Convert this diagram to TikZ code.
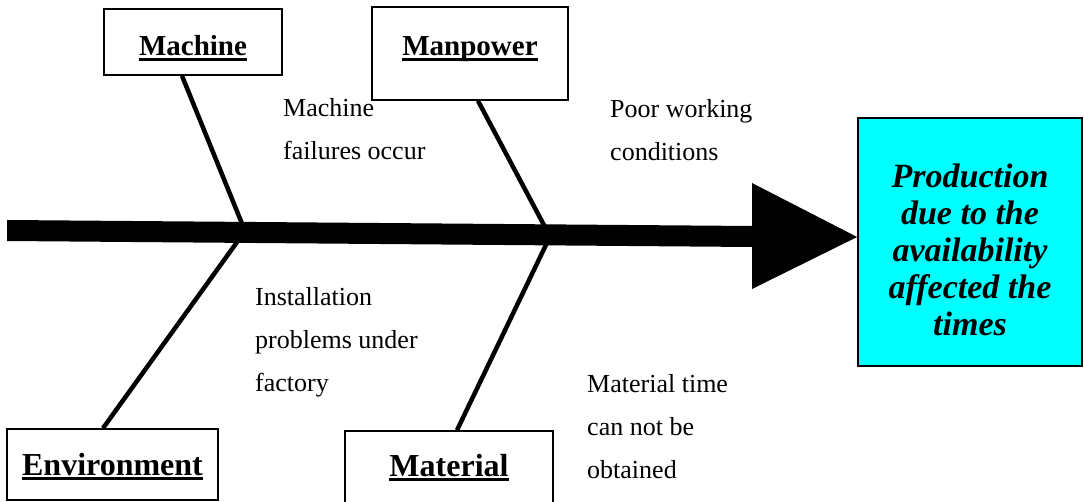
\documentclass[tikz,border=0pt]{standalone}
\usepackage{fontspec}
\setmainfont{Liberation Serif}
\usetikzlibrary{calc}
\definecolor{effectcyan}{RGB}{0,255,255}
% thick underline placed just below the baseline
\newcommand{\ulbox}[1]{\setbox0\hbox{#1}\rlap{\rule[-5pt]{\wd0}{3pt}}\box0}
\begin{document}
\begin{tikzpicture}[x=1pt,y=-1pt,
  catbox/.style={draw, line width=1.6pt, rectangle, inner sep=0pt, fill=white},
  topfont/.style={font=\fontsize{29}{34}\selectfont\bfseries},
  botfont/.style={font=\fontsize{32}{38}\selectfont\bfseries},
  note/.style={anchor=north west, align=left, inner sep=0pt, font=\fontsize{26}{43}\selectfont},
  bone/.style={line width=4.5pt},
  effectbox/.style={draw, line width=1.8pt, fill=effectcyan, rectangle, inner sep=0pt,
    minimum width=224pt, minimum height=248pt}]
\fill[white] (0,0) rectangle (1084,502);
\useasboundingbox (0,0) rectangle (1084,502);

% cause categories
\node[catbox, topfont, minimum width=178pt, minimum height=66pt, text height=32pt, text depth=4pt]
  (machine) at (193,42) {\ulbox{Machine}};
\node[catbox, topfont, minimum width=196pt, minimum height=93pt, text height=22pt, text depth=17pt]
  (manpower) at (470,53.5) {\ulbox{Manpower}};
\node[catbox, botfont, minimum width=211pt, minimum height=71pt, text height=26pt, text depth=5pt]
  (environment) at (112.5,464.5) {\ulbox{Environment}};
\node[catbox, botfont, minimum width=208pt, minimum height=89pt, text height=22pt, text depth=21pt]
  (material) at (449,475.5) {\ulbox{Material}};

% effect
\node[effectbox] (effect) at (970,242) {};
\node[align=center, inner sep=0pt, font=\fontsize{34}{37}\selectfont\bfseries\itshape]
  (effecttext) at ([yshift=-8pt]effect.center)
  {Production\\due to the\\availability\\affected the\\times};

% joints on the spine
\coordinate (j1) at (245,231);
\coordinate (j2) at (550,236.5);
\coordinate (tip) at ($(effect.west)+(0,-5)$);

% bones
\draw[bone] ($(machine.south)+(-11,0)$) -- (j1) -- ($(environment.north)+(-9.5,0)$);
\draw[bone] ($(manpower.south)+(8,0)$) -- (j2) -- ($(material.north)+(8,0)$);

% spine with its arrow head
\fill (7,220) -- (752,226) -- (752,183) -- (tip) -- (752,289) -- (752,247) -- (7,241) -- cycle;

% notes
\node[note] (n1) at (283,98) {Machine\\failures occur};
\node[note] (n2) at (610,99) {Poor working\\conditions};
\node[note] (n3) at (255,287) {Installation\\problems under\\factory};
\node[note] (n4) at (587,374) {Material time\\can not be\\obtained};
\end{tikzpicture}
\end{document}
